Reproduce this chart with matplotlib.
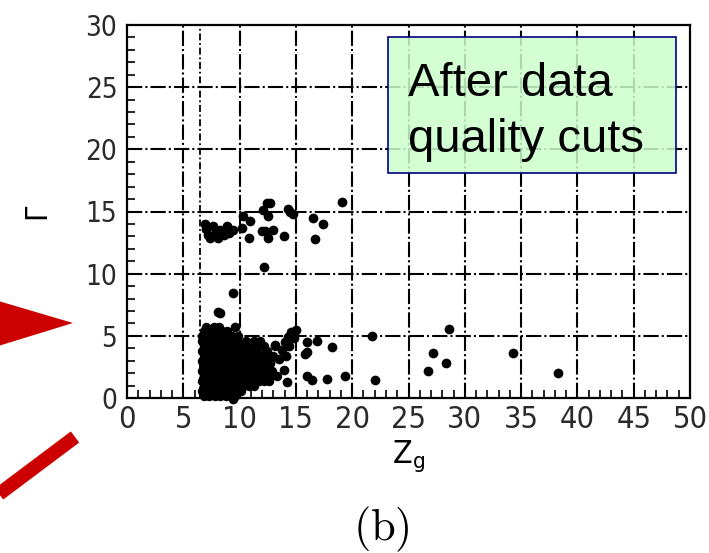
import matplotlib
matplotlib.use("Agg")
import matplotlib.pyplot as plt
from matplotlib import font_manager
from matplotlib.patches import Rectangle, Polygon
from matplotlib.lines import Line2D
from matplotlib.ticker import MultipleLocator

# dense core of events: (Gamma, [Zg values along that row])
core_rows = [
    (0.15, [6.8, 7.3, 7.8, 8.3, 8.8, 9.3, 9.6]),
    (0.55, [6.7, 7.2, 7.7, 8.2, 8.7, 9.2, 9.7, 10.1]),
    (0.95, [6.8, 7.3, 7.8, 8.3, 8.8, 9.3, 9.8, 10.3, 10.8, 11.3]),
    (1.35, [6.7, 7.2, 7.7, 8.2, 8.7, 9.2, 9.7, 10.2, 10.7, 11.2, 11.7, 12.2, 12.6]),
    (1.75, [6.8, 7.3, 7.8, 8.3, 8.8, 9.3, 9.8, 10.3, 10.8, 11.3, 11.8, 12.3, 12.8, 13.3]),
    (2.15, [6.7, 7.2, 7.7, 8.2, 8.7, 9.2, 9.7, 10.2, 10.7, 11.2, 11.7, 12.2, 12.9]),
    (2.55, [6.8, 7.3, 7.8, 8.3, 8.8, 9.3, 9.8, 10.3, 10.8, 11.3, 11.8, 12.4]),
    (2.95, [6.7, 7.2, 7.7, 8.2, 8.7, 9.2, 9.7, 10.2, 10.7, 11.2, 11.8, 12.6]),
    (3.35, [6.8, 7.3, 7.8, 8.3, 8.8, 9.3, 9.8, 10.3, 10.8, 11.4, 12.0, 13.0]),
    (3.75, [6.7, 7.2, 7.7, 8.2, 8.7, 9.2, 9.7, 10.2, 10.8, 11.5, 12.4]),
    (4.15, [6.8, 7.3, 7.8, 8.3, 8.8, 9.3, 9.8, 10.4, 11.1, 11.7, 12.2, 13.1]),
    (4.55, [6.7, 7.2, 7.7, 8.2, 8.7, 9.2, 9.8, 10.6, 11.3, 11.8]),
    (4.95, [6.7, 7.2, 7.7, 8.2, 8.7, 9.3, 9.9]),
    (5.35, [6.8, 7.3, 7.8, 8.4, 8.9]),
    (5.70, [7.0, 7.7, 8.2]),
]

# sparser events outside the core
zg_sparse = [13.8, 14.0, 14.4, 14.3, 14.6, 14.8, 15.0, 14.1, 13.5,
             14.8, 16.0, 16.9, 18.2, 15.8, 16.0, 21.8, 16.0, 16.4, 17.8,
             19.4, 22.0, 14.2, 13.9, 13.1, 12.3, 12.7, 26.7, 27.2, 28.3,
             28.6, 34.3, 38.3, 9.4,
             9.4, 8.1, 8.3, 9.6, 12.2,
             6.9, 7.2, 7.0, 7.6, 7.4, 8.1, 8.3, 7.9, 8.9, 9.1, 9.4, 8.6,
             10.2, 10.3, 10.9, 10.8, 12.0, 12.1, 12.4, 12.7, 12.5, 12.3,
             12.5, 13.0, 13.9, 14.5, 14.7, 14.3, 16.5, 16.7, 17.4, 19.1]
gamma_sparse = [3.9, 4.5, 4.2, 4.9, 5.3, 4.8, 5.5, 3.4, 3.1,
                5.3, 4.5, 4.6, 4.1, 3.5, 3.7, 5.0, 1.8, 1.45, 1.5,
                1.8, 1.45, 1.3, 2.25, 4.3, 3.6, 2.8, 2.2, 3.6, 2.8,
                5.55, 3.6, 2.0, -0.1,
                8.45, 6.9, 6.8, 5.75, 10.5,
                14.0, 13.1, 13.6, 13.8, 12.9, 12.9, 13.5, 13.4, 13.8, 13.3, 13.5, 13.1,
                13.7, 14.6, 14.2, 12.9, 13.4, 15.1, 15.7, 15.7, 14.6, 13.4,
                12.9, 13.5, 13.0, 15.0, 14.8, 15.2, 14.5, 12.8, 14.0, 15.8]

zg_cut = 6.5
label_text = "After data\nquality cuts"

zg_core = [z for g, zs in core_rows for z in zs]
gamma_core = [g for g, zs in core_rows for z in zs]

# narrow face for the axis texts
narrow = font_manager.FontProperties(family="DejaVu Sans", stretch="condensed")

plt.rcParams["lines.scale_dashes"] = False
plt.rcParams["mathtext.fontset"] = "custom"
plt.rcParams["mathtext.rm"] = "DejaVu Sans:stretch=condensed"

fig = plt.figure(figsize=(7.09, 5.53), dpi=100)
ax = fig.add_axes([127 / 709, 1 - 398 / 553, (690 - 127) / 709, (398 - 25) / 553])

ax.set_xlim(0, 50)
ax.set_ylim(0, 30)
ax.xaxis.set_major_locator(MultipleLocator(5))
ax.yaxis.set_major_locator(MultipleLocator(5))
ax.xaxis.set_minor_locator(MultipleLocator(1))
ax.yaxis.set_minor_locator(MultipleLocator(1))
ax.tick_params(which="both", direction="in", top=False, right=False, colors="black")
ax.tick_params(which="major", length=8, width=1.4)
ax.tick_params(which="minor", length=5.5, width=1.2)
ax.tick_params(axis="x", pad=5, labelcolor="#2a2a2a")
ax.tick_params(axis="y", pad=7, labelcolor="#2a2a2a")
for lab in ax.get_xticklabels():
    lab.set_fontproperties(narrow)
    lab.set_fontsize(22)
for lab in ax.get_yticklabels():
    lab.set_fontproperties(narrow)
    lab.set_fontsize(20)
for sp in ax.spines.values():
    sp.set_linewidth(1.6)

# dash-dot grid every 5 units
for v in range(5, 50, 5):
    ax.axvline(v, color="black", lw=1.5, ls=(0, (11, 2.2, 1.5, 2.2)), zorder=1)
for v in range(5, 30, 5):
    ax.axhline(v, color="black", lw=1.5, ls=(0, (11, 2.2, 1.5, 2.2)), zorder=1)
ax.axvline(zg_cut, color="black", lw=1.3, ls=(0, (5, 2, 1.3, 2)), zorder=1)

ax.plot(zg_core, gamma_core, "o", color="black", ms=6.8, mew=0, zorder=3, clip_on=False)
ax.plot(zg_sparse, gamma_sparse, "o", color="black", ms=7.0, mew=0, zorder=3, clip_on=False)

ax.set_xlabel(r"Z$_\mathregular{g}$", fontproperties=narrow, fontsize=23, labelpad=3)
ax.set_ylabel("Γ", fontproperties=narrow, fontsize=22, labelpad=25)

# label box
ax.add_patch(Rectangle((23.2, 18.1), 25.6, 10.9, facecolor="#ccffcc", alpha=0.85,
                       edgecolor="none", zorder=4))
ax.add_patch(Rectangle((23.2, 18.1), 25.6, 10.9, facecolor="none",
                       edgecolor="#000080", lw=1.2, zorder=5))
ax.text(25.0, 23.0, label_text, family="Liberation Sans", fontsize=34,
        ha="left", va="center", linespacing=1.38, zorder=6)

fig.text(381 / 709, 1 - 529 / 553, r"$\mathrm{(b)}$", fontsize=32, ha="center", va="center",
         math_fontfamily="cm")

# red pointer shapes on the left
fig.add_artist(Polygon([(-5 / 709, 1 - 300 / 553), (-5 / 709, 1 - 347 / 553), (73 / 709, 1 - 323 / 553)],
                       closed=True, facecolor="#cc0000", edgecolor="none", transform=fig.transFigure))
fig.add_artist(Line2D([-5 / 709, 75 / 709], [1 - 497 / 553, 1 - 437 / 553], color="#cc0000",
                      lw=10, solid_capstyle="butt", transform=fig.transFigure))

fig.savefig("out.png", dpi=100)
